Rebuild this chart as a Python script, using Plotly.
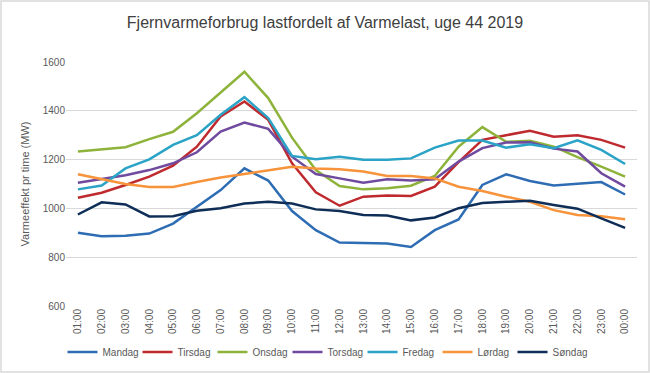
import plotly.graph_objects as go

hours = ["01:00", "02:00", "03:00", "04:00", "05:00", "06:00", "07:00", "08:00",
         "09:00", "10:00", "11:00", "12:00", "13:00", "14:00", "15:00", "16:00",
         "17:00", "18:00", "19:00", "20:00", "21:00", "22:00", "23:00", "00:00"]

mandag = [900, 886, 888, 897, 938, 1007, 1075, 1164, 1114, 989, 911, 860,
          859, 856, 842, 911, 955, 1096, 1140, 1112, 1094, 1100, 1108, 1057]
tirsdag = [1044, 1064, 1096, 1130, 1175, 1253, 1377, 1438, 1363, 1185, 1066, 1011,
           1048, 1053, 1051, 1089, 1190, 1281, 1300, 1318, 1294, 1300, 1281, 1249]
onsdag = [1233, 1243, 1251, 1284, 1314, 1390, 1475, 1560, 1452, 1290, 1157, 1092,
          1078, 1083, 1093, 1133, 1253, 1333, 1273, 1277, 1253, 1210, 1171, 1130]
torsdag = [1105, 1120, 1136, 1157, 1185, 1230, 1315, 1352, 1326, 1212, 1141, 1123,
           1105, 1119, 1114, 1119, 1192, 1247, 1270, 1271, 1245, 1233, 1144, 1089]
fredag = [1078, 1094, 1164, 1201, 1260, 1300, 1384, 1456, 1370, 1215, 1201, 1212,
          1199, 1199, 1205, 1249, 1278, 1278, 1249, 1263, 1247, 1279, 1240, 1182]
lordag = [1140, 1119, 1100, 1088, 1088, 1108, 1127, 1141, 1157, 1171, 1164, 1160,
          1151, 1133, 1133, 1123, 1089, 1071, 1048, 1027, 993, 973, 968, 956]
sondag = [975, 1025, 1016, 967, 968, 990, 1001, 1020, 1027, 1020, 996, 989,
          973, 971, 951, 963, 1001, 1022, 1027, 1031, 1014, 999, 959, 920]

series_names = ["Mandag", "Tirsdag", "Onsdag", "Torsdag", "Fredag", "Lørdag", "Søndag"]
series_values = [mandag, tirsdag, onsdag, torsdag, fredag, lordag, sondag]
colors = ["#2E6DB4", "#BE2A2E", "#8DB33B", "#6F4A9E", "#2AA3C6", "#F7933B", "#0E2D57"]

fig = go.Figure()
for name, vals, col in zip(series_names, series_values, colors):
    fig.add_trace(go.Scatter(x=hours, y=vals, name=name, mode="lines",
                             line=dict(color=col, width=2.5)))

W, H = 650, 373
ml, mr, mt, mb = 66, 13, 62, 67
pw, ph = W - ml - mr, H - mt - mb
sans = "Liberation Sans, Arial, sans-serif"

fig.update_layout(
    width=W, height=H,
    margin=dict(l=ml, r=mr, t=mt, b=mb, autoexpand=False),
    paper_bgcolor="white", plot_bgcolor="white",
    font=dict(family=sans, color="#595959", size=10),
    title=dict(text="Fjernvarmeforbrug lastfordelt af Varmelast, uge 44 2019",
               x=0.5, xref="container", xanchor="center", y=1 - 22 / H, yanchor="middle",
               font=dict(family=sans, size=16, color="#404040")),
    showlegend=True,
    legend=dict(orientation="h", xref="container", yref="container",
                x=325 / W, xanchor="center", y=1 - 352 / H, yanchor="middle",
                font=dict(family=sans, size=10, color="#595959"), itemwidth=30,
                entrywidth=30, entrywidthmode="pixels", tracegroupgap=0),
    xaxis=dict(type="category", range=[-0.5, 23.5], tickangle=-90, automargin=False,
               showgrid=False, zeroline=False, showline=False, ticks="",
               tickfont=dict(family=sans, size=10, color="#595959")),
    yaxis=dict(range=[600, 1600], dtick=200, showgrid=True, gridcolor="#D9D9D9",
               gridwidth=1, zeroline=False, showline=False, ticks="", automargin=False,
               tickfont=dict(family=sans, size=10, color="#595959"),
               title=dict(text="Varmeeffekt pr time (MW)", standoff=10,
                          font=dict(family=sans, size=11, color="#595959"))),
    shapes=[dict(type="rect", xref="paper", yref="paper",
                 x0=(1 - ml) / pw, x1=(W - 1 - ml) / pw,
                 y0=-(mb - 1) / ph, y1=(ph + mt - 1) / ph,
                 line=dict(color="#D9D9D9", width=1.5), fillcolor="rgba(0,0,0,0)",
                 layer="below")],
)

fig.write_html("out.html", config={"displayModeBar": False},
               post_script="document.body.style.margin='0';")
